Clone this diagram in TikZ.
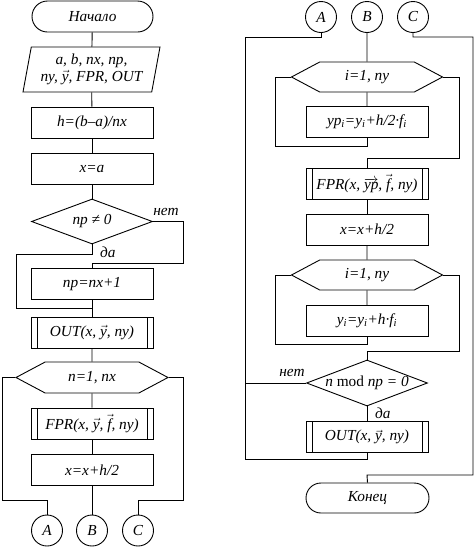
\documentclass[tikz,border=0pt]{standalone}
\usepackage{fontspec}
\setmainfont{Liberation Serif}
\usetikzlibrary{shapes.geometric,shapes.symbols,shapes.misc}
\newcommand\flfont{\fontsize{15.3}{17}\selectfont\itshape}
\tikzset{
 lw/.style={line width=0.9pt},
 base/.style={draw, lw, inner sep=0pt, font=\flfont},
 term/.style={base, rounded rectangle, minimum width=121pt, minimum height=31pt},
 proc/.style={base, rectangle, minimum width=122pt, minimum height=31pt},
 sub/.style={proc, path picture={
   \draw[lw] ([xshift=6pt]path picture bounding box.north west) -- ([xshift=6pt]path picture bounding box.south west);
   \draw[lw] ([xshift=-6pt]path picture bounding box.north east) -- ([xshift=-6pt]path picture bounding box.south east);}},
 hexa/.style={base, signal, signal to=east and west, signal pointer angle=56, minimum width=152pt, minimum height=31pt},
 dec/.style={base, diamond, minimum width=121pt, minimum height=45pt},
 conn/.style={base, circle, minimum size=31pt},
 io/.style={base, trapezium, trapezium left angle=75, trapezium right angle=105, trapezium stretches body, minimum width=137pt, minimum height=45pt, align=center},
 lab/.style={font=\flfont, inner sep=1pt},
 wire/.style={lw}
}
\begin{document}
\begin{tikzpicture}[x=1pt,y=-1pt]
\useasboundingbox (0,0) rectangle (474,547);
% ---------- left column ----------
\node[term] (start) at (92.5,16.5) {Начало};
\node[io] (in) at (91.5,69.5) {a, b, nx, np,\\ ny, $\vec{\textit{y}}$, FPR, OUT};
\node[proc] (h) at (92,122.5) {h=(b–a)/nx};
\node[proc] (xa) at (92,168.5) {x=a};
\node[dec, label={center:{\flfont np ≠ 0}}] (d1) at (92,221.5) {};
\node[proc] (np) at (92,284) {np=nx+1};
\node[sub] (out1) at (92,332.5) {OUT(x, $\vec{\textit{y}}$, ny)};
\node[hexa] (hx1) at (92,377.5) {n=1, nx};
\node[sub] (fpr1) at (92,423.5) {FPR(x, $\vec{\textit{y}}$, $\vec{\textit{f}}$, ny)};
\node[proc] (xh1) at (92,470) {x=x+h/2};
\node[conn] (A1) at (47,530.5) {A};
\node[conn] (B1) at (92,530.5) {B};
\node[conn] (C1) at (138,530.5) {C};
\coordinate (j1) at (92,308);
\node[lab, anchor=west] (yes1) at (99,252) {да};
\node[lab] (no1) at (166,212) {нет};

\draw[wire] (start) -- (in);
\draw[wire] (in) -- (h);
\draw[wire] (h) -- (xa);
\draw[wire] (xa) -- (d1);
\draw[wire] (d1.south) -- (92,254) -| (16,308) -- (j1);
\draw[wire] (d1.east) -- (183,221.5) -- (183,263) -- (92,263) -- (np.north);
\draw[wire] (np) -- (out1);
\draw[wire] (out1) -- (hx1);
\draw[wire] (hx1) -- (fpr1);
\draw[wire] (fpr1) -- (xh1);
\draw[wire] (xh1) -- (B1);
\draw[wire] (hx1.west) -- (2,377.5) -- (2,500) -| (A1.north);
\draw[wire] (hx1.east) -- (183,377.5) -- (183,500) -| (C1.north);

% ---------- right column ----------
\node[conn] (A2) at (321,17) {A};
\node[conn] (B2) at (367,17) {B};
\node[conn] (C2) at (413,17) {C};
\node[hexa, minimum width=151pt, minimum height=30pt] (hx2) at (367,77) {i=1, ny};
\node[proc] (yp) at (367,122) {yp\textsubscript{i}=y\textsubscript{i}+h/2·f\textsubscript{i}};
\node[sub] (fpr2) at (367,183.5) {FPR(x, $\overrightarrow{\textit{yp}}$, $\vec{\textit{f}}$, ny)};
\node[proc] (xh2) at (367,229.5) {x=x+h/2};
\node[hexa, minimum width=151pt, minimum height=30pt] (hx3) at (367,275) {i=1, ny};
\node[proc] (yi) at (367,321) {y\textsubscript{i}=y\textsubscript{i}+h·f\textsubscript{i}};
\node[dec, minimum height=46pt, label={center:{\flfont n \textup{mod} np = 0}}] (d2) at (367,383) {};
\node[sub] (out2) at (367,437) {OUT(x, $\vec{\textit{y}}$, ny)};
\node[term, minimum width=123pt, minimum height=30pt] (end) at (367.5,498) {Конец};
\coordinate (j2) at (245,459);
\node[lab] (no2) at (292,373) {нет};
\node[lab, anchor=west] (yes2) at (374,413) {да};

\draw[wire] (A2.south) -- (321,37) -- (245,37) -- (j2);
\draw[wire] (B2) -- (hx2);
\draw[wire] (C2.south) -- (413,37) -- (473,37) -- (473,475) -- (367,475) -- (end.north);
\draw[wire] (hx2) -- (yp);
\draw[wire] (yp.south) -- (367,146) -| (275,77) -- (hx2.west);
\draw[wire] (hx2.east) -- (459,77) -- (459,158) -- (367,158) -- (fpr2.north);
\draw[wire] (fpr2) -- (xh2);
\draw[wire] (xh2) -- (hx3);
\draw[wire] (hx3) -- (yi);
\draw[wire] (yi.south) -- (367,344) -| (275,275) -- (hx3.west);
\draw[wire] (hx3.east) -- (459,275) -- (459,351) -- (367,351) -- (d2.north);
\draw[wire] (d2.west) -- (245,383);
\draw[wire] (d2) -- (out2);
\draw[wire] (out2.south) -- (367,459) -- (j2);
\end{tikzpicture}
\end{document}
